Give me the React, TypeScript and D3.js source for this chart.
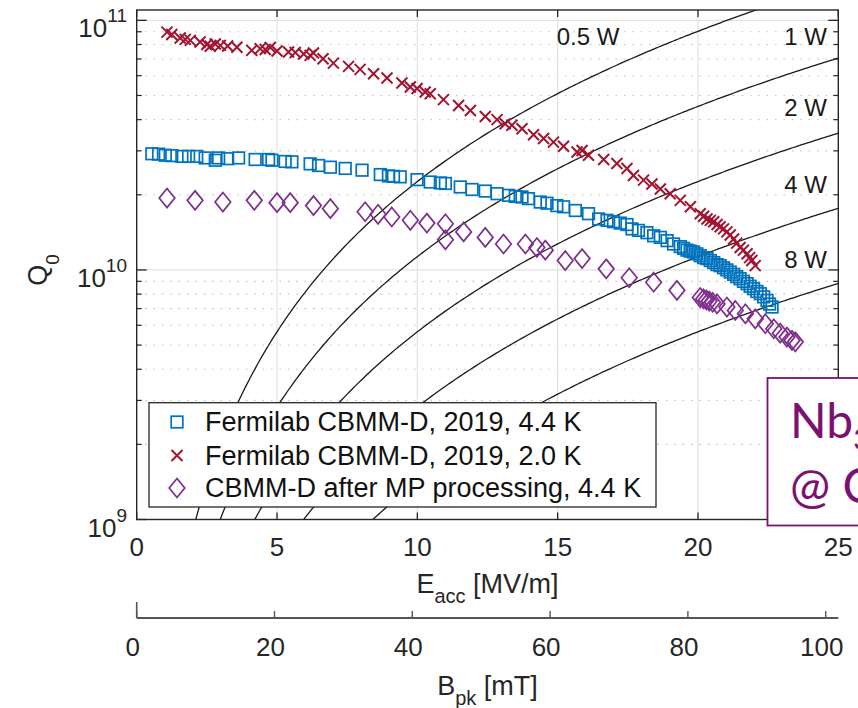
import React from "react";
import * as d3 from "d3";

// ---------------- data ----------------
// Fermilab CBMM-D, 2019, 4.4 K  (Q0 in units of 1e10)
const eacc44K = [0.54, 0.78, 1.02, 1.25, 1.61, 1.85, 2.14, 2.44, 2.8, 2.92, 3.24, 3.63, 4.22, 4.7, 4.82, 5.29, 5.53, 6.18, 6.48, 6.9, 7.43, 8.03, 8.68, 8.97, 9.15, 9.39, 9.99, 10.46, 10.82, 11.0, 11.53, 11.95, 12.42, 12.84, 13.25, 13.49, 13.73, 13.96, 14.38, 14.62, 14.97, 15.21, 15.63, 16.1, 16.46, 16.76, 16.99, 17.23, 17.47, 17.65, 17.88, 18.18, 18.42, 18.66, 18.9, 19.13, 19.37, 19.49, 19.61, 19.72, 19.84, 19.96, 20.08, 20.2, 20.32, 20.44, 20.56, 20.68, 20.79, 20.91, 21.03, 21.15, 21.27, 21.38, 21.5, 21.62, 21.75, 21.86, 21.98, 22.1, 22.22, 22.34, 22.46, 22.55, 22.64];
const q44K = [2.92, 2.91, 2.88, 2.87, 2.85, 2.85, 2.85, 2.81, 2.75, 2.81, 2.79, 2.81, 2.77, 2.77, 2.75, 2.72, 2.71, 2.66, 2.62, 2.58, 2.55, 2.51, 2.41, 2.38, 2.37, 2.36, 2.3, 2.25, 2.23, 2.22, 2.15, 2.1, 2.07, 2.02, 1.99, 1.97, 1.96, 1.93, 1.87, 1.85, 1.81, 1.79, 1.73, 1.68, 1.6, 1.58, 1.56, 1.54, 1.52, 1.46, 1.44, 1.41, 1.37, 1.35, 1.31, 1.27, 1.24, 1.22, 1.2, 1.19, 1.18, 1.16, 1.14, 1.12, 1.11, 1.09, 1.07, 1.05, 1.04, 1.02, 1.0, 0.98, 0.96, 0.94, 0.922, 0.9, 0.881, 0.86, 0.841, 0.82, 0.803, 0.78, 0.755, 0.73, 0.71];

// Fermilab CBMM-D, 2019, 2.0 K
const eacc20K = [1.08, 1.25, 1.55, 1.73, 1.91, 2.26, 2.5, 2.62, 2.8, 2.98, 3.24, 3.57, 4.1, 4.4, 4.58, 4.76, 5.0, 5.41, 5.65, 5.95, 6.18, 6.3, 6.64, 7.01, 7.55, 7.96, 8.44, 8.92, 9.45, 9.75, 9.99, 10.28, 10.46, 10.93, 11.47, 11.89, 12.42, 12.84, 13.13, 13.37, 13.73, 14.14, 14.5, 14.85, 15.21, 15.69, 15.87, 16.1, 16.64, 17.11, 17.47, 17.7, 18.06, 18.36, 18.66, 19.01, 19.37, 19.73, 20.08, 20.2, 20.32, 20.44, 20.56, 20.68, 20.79, 20.91, 21.03, 21.15, 21.27, 21.38, 21.5, 21.62, 21.75, 21.84, 21.92, 22.04];
const q20K = [8.97, 8.77, 8.49, 8.39, 8.31, 8.19, 8.0, 7.87, 8.04, 7.94, 7.89, 7.8, 7.58, 7.7, 7.64, 7.78, 7.54, 7.47, 7.43, 7.33, 7.24, 7.4, 7.02, 6.74, 6.54, 6.36, 6.11, 5.87, 5.61, 5.41, 5.33, 5.16, 5.08, 4.81, 4.56, 4.35, 4.12, 4.0, 3.85, 3.8, 3.68, 3.48, 3.36, 3.25, 3.13, 2.97, 3.01, 2.88, 2.77, 2.67, 2.55, 2.39, 2.29, 2.21, 2.11, 2.02, 1.9, 1.79, 1.68, 1.64, 1.6, 1.58, 1.56, 1.52, 1.49, 1.46, 1.42, 1.38, 1.33, 1.28, 1.23, 1.2, 1.16, 1.12, 1.09, 1.04];

// CBMM-D after MP processing, 4.4 K
const eaccMP = [1.08, 2.08, 3.07, 4.19, 5.0, 5.47, 6.3, 6.9, 8.14, 8.6, 9.09, 9.75, 10.34, 11.0, 11.0, 11.65, 12.42, 13.07, 13.85, 14.26, 14.56, 15.27, 15.87, 16.73, 17.55, 18.42, 19.25, 20.08, 20.2, 20.3, 20.4, 20.52, 20.68, 21.03, 21.33, 21.69, 22.04, 22.4, 22.7, 22.93, 23.17, 23.35, 23.47];
const qMP = [1.94, 1.9, 1.87, 1.9, 1.86, 1.86, 1.81, 1.76, 1.71, 1.67, 1.63, 1.58, 1.54, 1.53, 1.32, 1.42, 1.35, 1.27, 1.27, 1.23, 1.2, 1.09, 1.11, 1.01, 0.93, 0.893, 0.828, 0.775, 0.765, 0.758, 0.75, 0.742, 0.731, 0.71, 0.688, 0.667, 0.637, 0.609, 0.581, 0.558, 0.538, 0.522, 0.515];

// constant dissipated-power curves: Q0 = C * Eacc^2 / P
const powerLevels = [0.5, 1, 2, 4, 8];
const powerLabels = ["0.5 W", "1 W", "2 W", "4 W", "8 W"];
const powerConst = 1.13e8;

const eaccTicks = [0, 5, 10, 15, 20, 25];
const bpkTicks = [0, 20, 40, 60, 80, 100];
const qMajorTicks = [1e9, 1e10, 1e11];
const qTickExponents = ["9", "10", "11"];
const qMinorMultipliers = [2, 3, 4, 5, 6, 7, 8, 9];
const legendLabels = [
  "Fermilab CBMM-D, 2019, 4.4 K",
  "Fermilab CBMM-D, 2019, 2.0 K",
  "CBMM-D after MP processing, 4.4 K",
];

// ---------------- chart ----------------
const W = 858;
const H = 708;
const L = 136.7;
const R = 838.3;
const T = 10;
const B = 519.5;
const AX = "#262626";
const FONT = "'Liberation Sans', Arial, Helvetica, sans-serif";
const BLUE = "#0072BD";
const RED = "#A2142F";
const PURPLE = "#7E2F8E";
const BOXC = "#7B1170";

export default function App() {
  const x = d3.scaleLinear().domain([0, 25]).range([L, R]);
  const y = d3.scaleLog().domain([1e9, 1.1e11]).range([B, T]);
  const xb = d3.scaleLinear().domain([0, 101.83]).range([L, R]);

  const minorQ: number[] = [];
  [1e9, 1e10].forEach((d) => qMinorMultipliers.forEach((m) => minorQ.push(m * d)));

  const sampleE = d3.range(0.3, 25.3, 0.1);
  const powerPaths = powerLevels.map((p) =>
    d3
      .line<number>()
      .x((e) => x(e))
      .y((e) => y((powerConst * e * e) / p))(sampleE)
  );

  const s44 = eacc44K.map((e, i) => [x(e), y(q44K[i] * 1e10)]);
  const s20 = eacc20K.map((e, i) => [x(e), y(q20K[i] * 1e10)]);
  const sMP = eaccMP.map((e, i) => [x(e), y(qMP[i] * 1e10)]);

  const sq = 5.8;
  const xm = 5.5;
  const diamond = "M0,-9.5L7.8,0L0,9.5L-7.8,0Z";

  const square = (cx: number, cy: number, k: any) => (
    <rect key={k} x={cx - sq} y={cy - sq} width={2 * sq} height={2 * sq} fill="none" stroke={BLUE} strokeWidth={1.7} />
  );
  const cross = (cx: number, cy: number, k: any) => (
    <path key={k} d={`M${cx - xm},${cy - xm}L${cx + xm},${cy + xm}M${cx - xm},${cy + xm}L${cx + xm},${cy - xm}`} stroke={RED} strokeWidth={2} fill="none" />
  );
  const dia = (cx: number, cy: number, k: any) => (
    <path key={k} d={diamond} transform={`translate(${cx},${cy})`} fill="none" stroke={PURPLE} strokeWidth={1.7} />
  );

  // label layout for power curves
  const powerLabelPos = [
    { x: 588, y: 45, anchor: "middle" },
    { x: 827, y: 45, anchor: "end" },
    { x: 827, y: 116, anchor: "end" },
    { x: 827, y: 193, anchor: "end" },
    { x: 827, y: 268, anchor: "end" },
  ];

  const legRowY = [422, 455.5, 488];
  const markerFns = [square, cross, dia];

  return (
    <svg width={W} height={H} style={{ position: "absolute", left: 0, top: 0, background: "#fff" }} fontFamily={FONT}>
      <defs>
        <clipPath id="plotClip">
          <rect x={L} y={T} width={R - L} height={B - T} />
        </clipPath>
      </defs>
      <rect x={0} y={0} width={W} height={H} fill="#fff" />

      {/* grid */}
      {minorQ.map((v) => (
        <line key={"mg" + v} x1={L} x2={R} y1={y(v)} y2={y(v)} stroke="#bdbdbd" strokeWidth={1.1} strokeDasharray="1.4 7" />
      ))}
      {qMajorTicks.slice(1).map((v) => (
        <line key={"Mg" + v} x1={L} x2={R} y1={y(v)} y2={y(v)} stroke="#e2e2e2" strokeWidth={1.2} />
      ))}
      {eaccTicks.slice(1, -1).map((t) => (
        <line key={"xg" + t} x1={x(t)} x2={x(t)} y1={T} y2={B} stroke="#e2e2e2" strokeWidth={1.2} />
      ))}

      {/* power curves */}
      <g clipPath="url(#plotClip)">
        {powerPaths.map((d, i) => (
          <path key={"pc" + i} d={d || ""} fill="none" stroke="#1a1a1a" strokeWidth={1.3} />
        ))}
      </g>

      {/* data */}
      <g clipPath="url(#plotClip)">
        {s44.map((p, i) => square(p[0], p[1], "b" + i))}
        {s20.map((p, i) => cross(p[0], p[1], "r" + i))}
        {sMP.map((p, i) => dia(p[0], p[1], "m" + i))}
      </g>

      {/* power labels */}
      {powerLabels.map((t, i) => (
        <text key={"pl" + i} x={powerLabelPos[i].x} y={powerLabelPos[i].y} textAnchor={powerLabelPos[i].anchor as any} fontSize={24} fill="#1a1a1a">
          {t}
        </text>
      ))}

      {/* axes box */}
      <rect x={L} y={T} width={R - L} height={B - T} fill="none" stroke={AX} strokeWidth={1.4} />

      {/* x ticks */}
      {eaccTicks.map((t) => (
        <g key={"xt" + t}>
          <line x1={x(t)} x2={x(t)} y1={B} y2={B - 7} stroke={AX} strokeWidth={1.3} />
          <line x1={x(t)} x2={x(t)} y1={T} y2={T + 7} stroke={AX} strokeWidth={1.3} />
          <text x={x(t)} y={556} textAnchor="middle" fontSize={26} fill={AX}>
            {t}
          </text>
        </g>
      ))}

      {/* y ticks */}
      {qMajorTicks.map((v, i) => (
        <g key={"yt" + v}>
          <line x1={L} x2={L + 10} y1={y(v)} y2={y(v)} stroke={AX} strokeWidth={1.3} />
          <line x1={R} x2={R - 10} y1={y(v)} y2={y(v)} stroke={AX} strokeWidth={1.3} />
          <text x={127} y={y(v) + 17} textAnchor="end" fontSize={26} fill={AX}>
            10
            <tspan fontSize={19} dy={-15}>
              {qTickExponents[i]}
            </tspan>
          </text>
        </g>
      ))}
      {minorQ.map((v) => (
        <g key={"ymt" + v}>
          <line x1={L} x2={L + 5} y1={y(v)} y2={y(v)} stroke={AX} strokeWidth={1.2} />
          <line x1={R} x2={R - 5} y1={y(v)} y2={y(v)} stroke={AX} strokeWidth={1.2} />
        </g>
      ))}

      {/* axis titles */}
      <text transform="translate(47,270) rotate(-90)" textAnchor="middle" fontSize={27} fill={AX}>
        Q
        <tspan fontSize={19} dy={12}>
          0
        </tspan>
      </text>
      <text x={487.5} y={593} textAnchor="middle" fontSize={27} fill={AX}>
        E
        <tspan fontSize={20} dy={10}>
          acc
        </tspan>
        <tspan dy={-10}> [MV/m]</tspan>
      </text>

      {/* secondary axis: Bpk */}
      <line x1={L} x2={R} y1={618} y2={618} stroke="#555" strokeWidth={2} />
      <line x1={L} x2={L} y1={602} y2={618} stroke="#555" strokeWidth={1.6} />
      {bpkTicks.map((t) => (
        <g key={"bt" + t}>
          <line x1={xb(t)} x2={xb(t)} y1={611} y2={618} stroke="#555" strokeWidth={1.4} />
          <text x={xb(t) - 4} y={656} textAnchor="middle" fontSize={26} fill={AX}>
            {t}
          </text>
        </g>
      ))}
      <text x={487.5} y={695} textAnchor="middle" fontSize={27} fill={AX}>
        B
        <tspan fontSize={20} dy={10}>
          pk
        </tspan>
        <tspan dy={-10}> [mT]</tspan>
      </text>

      {/* legend */}
      <rect x={149} y={402.7} width={507} height={104.3} fill="#fff" stroke={AX} strokeWidth={1.3} />
      {legendLabels.map((t, i) => (
        <g key={"lg" + i}>
          {markerFns[i](177, legRowY[i], "lm" + i)}
          <text x={205} y={legRowY[i] + 9} fontSize={27} fill="#111">
            {t}
          </text>
        </g>
      ))}

      {/* annotation box */}
      <rect x={767.5} y={378} width={200} height={147.5} fill="#fff" stroke={BOXC} strokeWidth={1.8} />
      <text x={790} y={438} fontSize={48} fill={BOXC} fontFamily="Lato, 'Noto Sans', sans-serif">
        Nb
        <tspan fontSize={30} dy={12}>
          3
        </tspan>
        <tspan dy={-12}>Sn</tspan>
      </text>
      <text x={790} y={503} fontSize={48} fill={BOXC} fontFamily="Lato, 'Noto Sans', sans-serif">
        @ Cornell
      </text>
    </svg>
  );
}
